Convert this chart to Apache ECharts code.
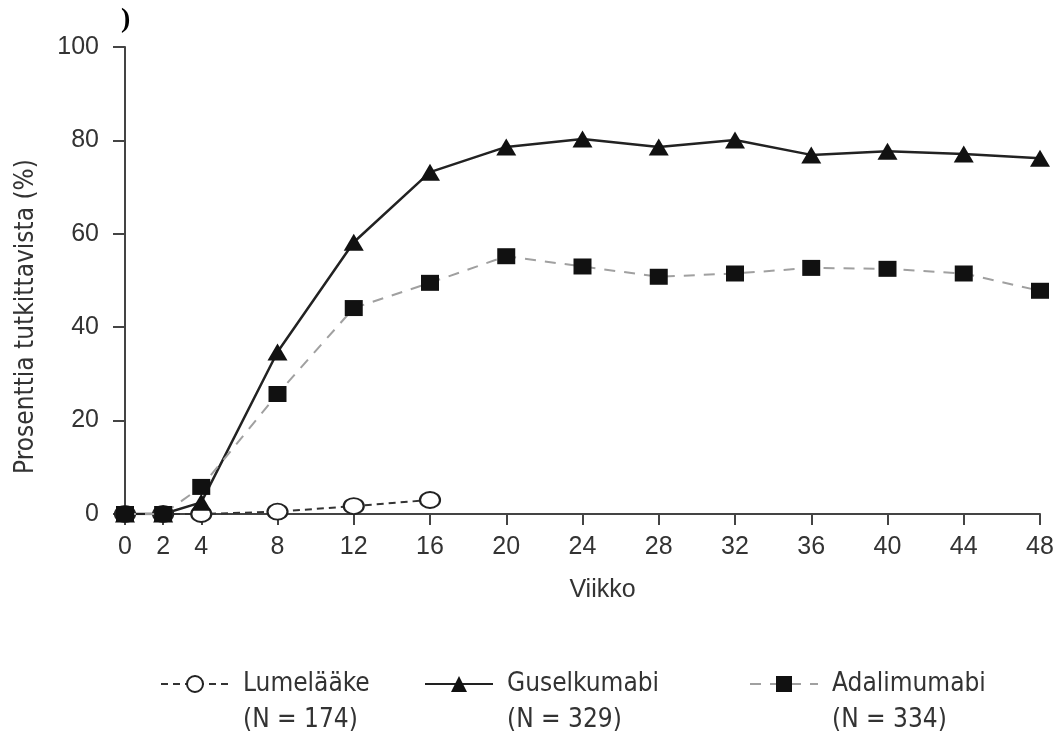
<!DOCTYPE html>
<html>
<head>
<meta charset="utf-8">
<script src="https://cdn.jsdelivr.net/npm/echarts@6/dist/echarts.min.js"></script>
<style>
html,body{margin:0;padding:0;background:#fff;}
#chart{width:1057px;height:733px;}
</style>
</head>
<body>
<div id="chart"></div>
<script>
// ---- data ----
var xTicks = [0, 2, 4, 8, 12, 16, 20, 24, 28, 32, 36, 40, 44, 48];
var yTicks = [0, 20, 40, 60, 80, 100];
var seriesNames = ['Lumelääke', 'Guselkumabi', 'Adalimumabi'];
var seriesN = ['(N = 174)', '(N = 329)', '(N = 334)'];
var placeboWeeks = [0, 2, 4, 8, 12, 16];
var placeboValues = [0, 0, 0, 0.5, 1.7, 3];
var guselWeeks = [0, 2, 4, 8, 12, 16, 20, 24, 28, 32, 36, 40, 44, 48];
var guselValues = [0, 0, 2.5, 34.7, 58.2, 73.2, 78.6, 80.3, 78.6, 80.1, 76.9, 77.7, 77.1, 76.2];
var adaWeeks = [0, 2, 4, 8, 12, 16, 20, 24, 28, 32, 36, 40, 44, 48];
var adaValues = [0, 0, 5.8, 25.7, 44.1, 49.5, 55.2, 53.0, 50.8, 51.5, 52.7, 52.5, 51.5, 47.8];
var xName = 'Viikko';
var yName = 'Prosenttia tutkittavista (%)';

function pairs(xs, ys) { return xs.map(function (x, i) { return [x, ys[i]]; }); }

var condFont = '"DejaVu Sans Condensed", "Liberation Sans Narrow", "Liberation Sans", sans-serif';
var tickFont = '"Liberation Sans", Arial, sans-serif';

var chart = echarts.init(document.getElementById('chart'), null, {renderer: 'canvas'});

function legendFor(idx, left) {
  return {
    data: [seriesNames[idx]],
    left: left,
    top: 630,
    padding: 0,
    itemWidth: 68,
    itemHeight: 20,
    formatter: function (name) { return ' \n' + name + '\n' + seriesN[seriesNames.indexOf(name)]; },
    textStyle: {
      fontFamily: condFont,
      fontSize: 26,
      lineHeight: 36,
      color: '#333',
      padding: [0, 0, 0, 9]
    }
  };
}

var option = {
  backgroundColor: '#fff',
  animation: false,
  graphic: [{
    type: 'text',
    left: 121,
    top: 6,
    style: {text: ')', fontFamily: '"Liberation Serif", "Times New Roman", serif', fontWeight: 'bold', fontSize: 28, fill: '#000'}
  }],
  legend: [legendFor(0, 160), legendFor(1, 424), legendFor(2, 749)],
  grid: {left: 125, right: 17, top: 47, bottom: 219, containLabel: false},
  xAxis: {
    type: 'value',
    min: 0,
    max: 48,
    name: xName,
    nameLocation: 'middle',
    nameGap: 64,
    nameTextStyle: {fontFamily: tickFont, fontSize: 25, color: '#333', padding: [0, 0, 0, 40]},
    axisLine: {show: true, lineStyle: {color: '#444', width: 2}},
    axisTick: {show: true, length: 11, customValues: xTicks, lineStyle: {color: '#444', width: 2}},
    axisLabel: {customValues: xTicks, fontFamily: tickFont, fontSize: 25, color: '#333', margin: 21},
    splitLine: {show: false}
  },
  yAxis: {
    type: 'value',
    min: 0,
    max: 100,
    interval: 20,
    name: yName,
    nameLocation: 'middle',
    nameGap: 86,
    nameTextStyle: {fontFamily: condFont, fontSize: 26, color: '#333', padding: [0, 72, 0, 0]},
    axisLine: {show: true, lineStyle: {color: '#444', width: 2}},
    axisTick: {show: true, length: 12, lineStyle: {color: '#444', width: 2}},
    axisLabel: {fontFamily: tickFont, fontSize: 25, color: '#333', margin: 26},
    splitLine: {show: false}
  },
  series: [
    {
      name: seriesNames[0],
      type: 'line',
      data: pairs(placeboWeeks, placeboValues),
      symbol: 'circle',
      symbolSize: [20, 16],
      itemStyle: {color: '#fff', borderColor: '#222', borderWidth: 2},
      lineStyle: {color: '#333', width: 2, type: [7, 5]},
      z: 2
    },
    {
      name: seriesNames[1],
      type: 'line',
      data: pairs(guselWeeks, guselValues),
      symbol: 'triangle',
      symbolSize: [20, 17],
      itemStyle: {color: '#111'},
      lineStyle: {color: '#222', width: 2.5, type: 'solid'},
      z: 3
    },
    {
      name: seriesNames[2],
      type: 'line',
      data: pairs(adaWeeks, adaValues),
      symbol: 'rect',
      symbolSize: [18, 16],
      itemStyle: {color: '#111'},
      lineStyle: {color: '#a0a0a0', width: 2, type: [11, 9]},
      z: 4
    }
  ]
};
chart.setOption(option);
</script>
</body>
</html>
